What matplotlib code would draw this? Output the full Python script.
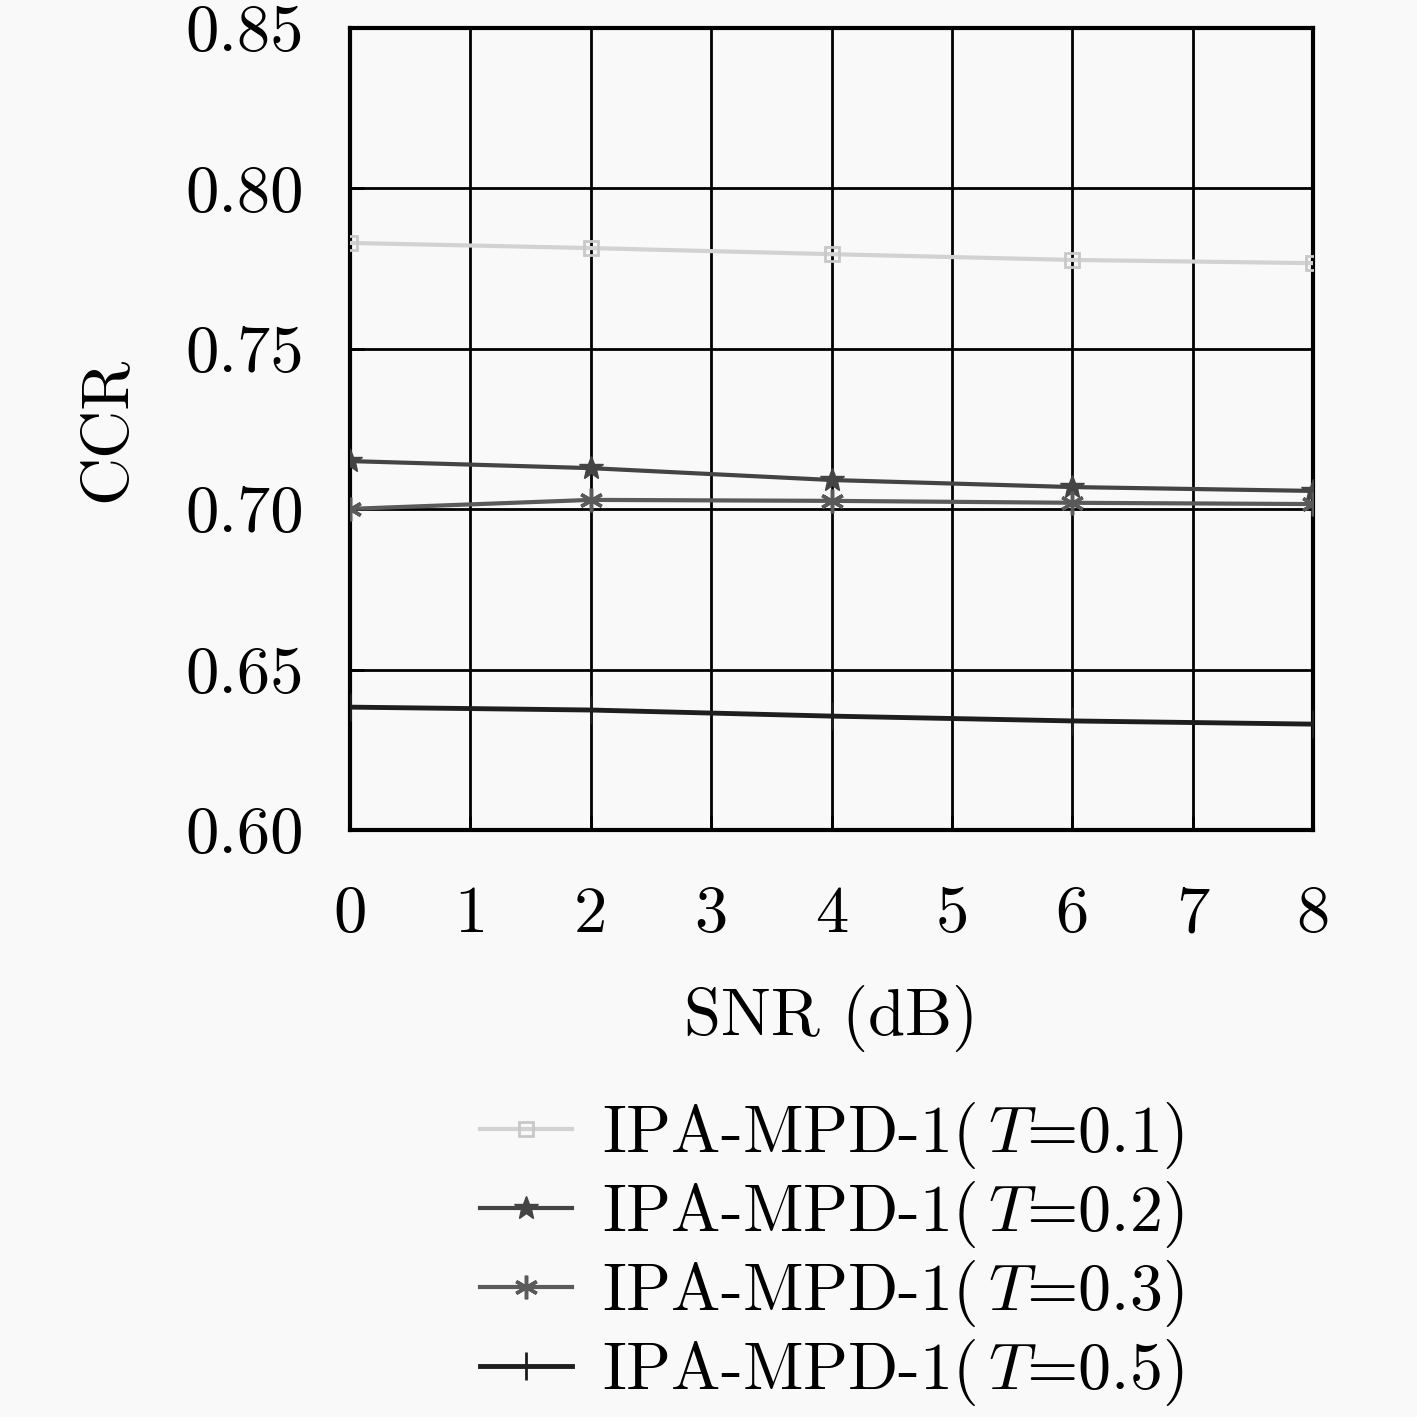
import matplotlib
matplotlib.use("Agg")
import matplotlib.pyplot as plt

plt.rcParams['font.family'] = ['cmr10', 'DejaVu Serif']
plt.rcParams['mathtext.fontset'] = 'cm'
plt.rcParams['axes.unicode_minus'] = False

snr = [0, 2, 4, 6, 8]
ccr_t01 = [0.7830, 0.7814, 0.7795, 0.7777, 0.7767]
ccr_t02 = [0.7150, 0.7128, 0.7091, 0.7069, 0.7057]
ccr_t03 = [0.7001, 0.7029, 0.7026, 0.7020, 0.7016]
ccr_t05 = [0.6383, 0.6374, 0.6355, 0.6340, 0.6330]

labels = [r'IPA-MPD-1($\,T$=0.1)', r'IPA-MPD-1($\,T$=0.2)',
          r'IPA-MPD-1($\,T$=0.3)', r'IPA-MPD-1($\,T$=0.5)']
xticks = [0, 1, 2, 3, 4, 5, 6, 7, 8]
yticks = [0.60, 0.65, 0.70, 0.75, 0.80, 0.85]
ytick_labels = ['0.60', '0.65', '0.70', '0.75', '0.80', '0.85']

bg = '#f9f9f9'
fig = plt.figure(figsize=(14.17, 14.17), dpi=100, facecolor=bg)
ax = fig.add_axes([350/1417, 1-830/1417, (1313-350)/1417, (830-28)/1417])
ax.set_facecolor(bg)

ax.plot(snr, ccr_t01, color='#d2d2d2', lw=3, marker='s', ms=10,
        mfc='none', mec='#c8c8c8', mew=2, label=labels[0], zorder=3)
ax.plot(snr, ccr_t02, color='#444444', lw=3, marker='*', ms=18,
        mfc='#444444', mec='#444444', label=labels[1], zorder=3)
ax.plot(snr, ccr_t03, color='#5a5a5a', lw=3, marker=(6, 2, 0), ms=17,
        mec='#5a5a5a', mew=2.5, label=labels[2], zorder=3)
ax.plot(snr, ccr_t05, color='#1e1e1e', lw=3.5, marker='+', ms=20,
        mec='#1e1e1e', mew=2, label=labels[3], zorder=3)

ax.set_xlim(0, 8)
ax.set_ylim(0.60, 0.85)
ax.set_xticks(xticks)
ax.set_xticklabels([str(v) for v in xticks])
ax.set_yticks(yticks)
ax.set_yticklabels(ytick_labels)
ax.grid(True, color='black', lw=2, ls='-')
ax.set_axisbelow(True)
for s in ax.spines.values():
    s.set_linewidth(3)
    s.set_color('black')
ax.tick_params(axis='both', direction='in', length=10, width=2,
               labelsize=48, pad=33)
ax.tick_params(axis='x', pad=40)

ax.set_xlabel('SNR (dB)', fontsize=48, labelpad=29)
ax.set_ylabel('CCR', fontsize=48, labelpad=35)

leg = ax.legend(loc='upper center', bbox_to_anchor=(0.5, -0.296),
                frameon=False, fontsize=47.5, handlelength=1.4,
                handletextpad=0.45, labelspacing=0.12, borderpad=0)

fig.savefig('out.png', dpi=100, facecolor=bg)
